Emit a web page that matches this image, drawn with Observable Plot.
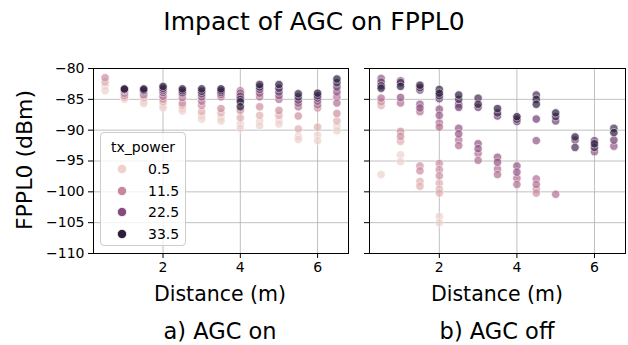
<!DOCTYPE html>
<html><head><meta charset="utf-8">
<script src="https://cdn.jsdelivr.net/npm/d3@7"></script>
<script src="https://cdn.jsdelivr.net/npm/@observablehq/plot@0.6"></script>
<style>
body{margin:0;background:#fff;font-family:"DejaVu Sans",sans-serif;color:#000;}
#wrap{position:relative;width:628px;height:345px;overflow:hidden;background:#fff;}
.lbl{position:absolute;white-space:nowrap;transform:translate(-50%,-50%);line-height:1;}
#legend{position:absolute;left:100px;top:132px;width:86px;height:114px;box-sizing:border-box;border:1px solid #cccccc;border-radius:4px;background:rgba(255,255,255,0.8);font-size:14px;}
</style></head>
<body><div id="wrap"></div>
<script>
// ---- data ----
const distance = [0.5, 1, 1.5, 2, 2.5, 3, 3.5, 4, 4.5, 5, 5.5, 6, 6.5];
const txLevels = [0.5, 5.5, 10.5, 15.5, 20.5, 25.5, 30.5, 33.5];
const legendTicks = [0.5, 11.5, 22.5, 33.5];
const xTicks = [2, 4, 6];
const yTicks = [-110, -105, -100, -95, -90, -85, -80];
const panelTitles = ["a) AGC on", "b) AGC off"];

// AGC on: FPPL0 readings per tx_power level, one entry per distance
const on_tx0_5  = [[-82.8,-83.6],[-85.0],[-85.3,-85.7],[-86.0,-86.4],[-86.5,-86.9],[-87.6,-88.2],[-88.0,-88.5],[-89.0,-89.7],[-88.6,-89.3],[-88.4,-89.0],[-91.0,-91.5],[-90.8,-91.7],[-89.4,-90.1]];
const on_tx5_5  = [[-82.2],[-84.7],[-84.8],[-85.4],[-86.0],[-87.0],[-87.2],[-88.0],[-87.6],[-87.6],[-89.8],[-89.5],[-88.5]];
const on_tx10_5 = [[-81.5],[-84.4],[-84.4],[-85.0],[-85.6],[-86.0],[-86.5],[-86.8],[-86.2],[-86.8],[-87.7],[-86.4],[-87.3]];
const on_tx15_5 = [null,[-84.0],[-84.2],[-84.5],[-84.7],[-85.3],[-84.6],[-83.6],[-84.6],[-85.0],[-86.2],[-85.9],[-84.6,-85.6]];
const on_tx20_5 = [null,[-83.6],[-83.8],[-83.9],[-84.1],[-84.6],[-84.2],[-84.0],[-84.0],[-84.4],[-85.6],[-85.3],[-83.8]];
const on_tx25_5 = [null,[-83.5],[-83.6],[-83.5],[-83.9],[-84.1],[-83.9],[-84.5],[-83.4],[-83.8],[-85.1],[-84.8],[-83.0]];
const on_tx30_5 = [null,[-83.4],[-83.5],[-83.2],[-83.6],[-83.7],[-83.6],[-85.0],[-83.0],[-83.2],[-84.6],[-84.4],[-82.3]];
const on_tx33_5 = [null,[-83.3],[-83.3],[-82.9],[-83.3],[-83.3],[-83.3],[-85.4,-86.2],[-82.6],[-82.6],[-84.1],[-84.0],[-81.7]];

// AGC off
const off_tx0_5  = [[-97.2],[-94.0,-95.1],null,[-104.0,-105.0],null,null,null,null,null,null,null,null,null];
const off_tx5_5  = [[-86.0],[-91.8],[-98.3,-99.1],[-98.6,-99.6,-100.2],null,null,null,null,null,null,null,null,null];
const off_tx10_5 = [[-85.4],[-90.2,-91.0],[-95.8,-96.6],[-95.4,-96.4,-97.4],null,null,null,null,[-99.6,-100.2],null,null,null,null];
const off_tx15_5 = [[-84.8],[-85.6],[-87.0],[-88.8,-89.5],[-91.6,-92.5],[-93.8,-94.9],[-96.3,-97.2],[-97.8,-98.8],[-97.9,-98.8],[-100.4],null,null,null];
const off_tx20_5 = [[-81.6],[-84.7],[-85.8,-86.4],[-86.6,-87.6],[-89.7,-90.6],[-92.2,-93.0],[-94.4,-95.2],[-95.8,-96.8],[-91.7],null,null,[-93.5],[-92.6]];
const off_tx25_5 = [[-82.2],[-82.0],[-83.5],[-84.9],[-85.8,-86.3],[-86.3],[-87.7],[-88.6],[-88.2],[-88.5],[-91.6],[-91.7],[-91.6]];
const off_tx30_5 = [[-82.8],[-82.3],[-83.1],[-84.4],[-85.0],[-84.8],[-87.2],[-88.2],[-84.3],[-87.8],[-92.8],[-92.8],[-89.7]];
const off_tx33_5 = [[-83.2],[-82.9],[-82.7],[-83.4,-84.0],[-84.3],[-85.8],[-86.5],[-87.8],[-85.0,-85.8],[-87.2],[-91.1],[-92.2],[-90.4]];

const onSeries  = [on_tx0_5, on_tx5_5, on_tx10_5, on_tx15_5, on_tx20_5, on_tx25_5, on_tx30_5, on_tx33_5];
const offSeries = [off_tx0_5, off_tx5_5, off_tx10_5, off_tx15_5, off_tx20_5, off_tx25_5, off_tx30_5, off_tx33_5];

function toRows(series) {
  const rows = [];
  series.forEach((arr, i) => arr.forEach((vals, j) => {
    if (vals == null) return;
    for (const v of vals) rows.push({distance: distance[j], tx: txLevels[i], fppl0: v});
  }));
  return rows;
}

// seaborn default cubehelix colormap (light -> dark)
function cubehelix(t) {
  const x = 0.85 - 0.7 * t;
  const a = 0.8 * x * (1 - x) / 2;
  const phi = 2 * Math.PI * (0.4 * x);
  const c = Math.cos(phi), s = Math.sin(phi);
  const r = x + a * (-0.14861 * c + 1.78277 * s);
  const g = x + a * (-0.29227 * c - 0.90649 * s);
  const b = x + a * (1.97294 * c);
  return d3.rgb(r * 255, g * 255, b * 255).formatHex();
}

const H = 345;
function panel(rows, width, marginLeft, marginRight, showY) {
  return Plot.plot({
    width, height: H, marginLeft, marginRight, marginTop: 68, marginBottom: 92,
    x: {domain: [0.2, 6.8]},
    y: {domain: [-110, -80]},
    color: {type: "linear", domain: [0.5, 33.5], interpolate: cubehelix},
    style: {fontFamily: "DejaVu Sans, sans-serif", fontSize: "14px", background: "transparent", overflow: "visible", color: "#000"},
    marks: [
      Plot.gridX(xTicks, {stroke: "#b0b0b0", strokeOpacity: 1, strokeWidth: 0.8}),
      Plot.gridY(yTicks, {stroke: "#b0b0b0", strokeOpacity: 1, strokeWidth: 0.8}),
      Plot.dot(rows, {x: "distance", y: "fppl0", fill: "tx", r: 4.2, stroke: "white", strokeWidth: 0.7, opacity: 0.7}),
      Plot.frame({stroke: "black", strokeWidth: 1}),
      Plot.axisX(xTicks, {tickSize: 5, tickPadding: 4, fontSize: 14, label: null, tickFormat: d3.format("d")}),
      Plot.axisY(yTicks, {tickSize: 5, tickPadding: 4, fontSize: 14, label: null, tickFormat: showY ? d3.format("d") : () => ""})
    ]
  });
}

const wrap = document.getElementById("wrap");
const left = panel(toRows(onSeries), 358, 93, 10, true);
const right = panel(toRows(offSeries), 270, 11, 3, false);
left.style.position = "absolute"; left.style.left = "0px"; left.style.top = "0px";
right.style.position = "absolute"; right.style.left = "358px"; right.style.top = "0px";
wrap.appendChild(left); wrap.appendChild(right);

function label(text, x, y, size, rotate) {
  const d = document.createElement("div");
  d.className = "lbl";
  d.textContent = text;
  d.style.left = x + "px"; d.style.top = y + "px"; d.style.fontSize = size + "px";
  if (rotate) d.style.transform = "translate(-50%,-50%) rotate(-90deg)";
  wrap.appendChild(d);
}
label("Impact of AGC on FPPL0", 314, 21, 25);
label("FPPL0 (dBm)", 25, 160, 22, true);
label("Distance (m)", 220, 294, 20.5);
label("Distance (m)", 497, 294, 20.5);
label(panelTitles[0], 220, 331, 22.5);
label(panelTitles[1], 497, 331, 22.5);

// legend
const cs = left.scale("color");
const lg = document.createElement("div");
lg.id = "legend";
let html = '<div style="position:absolute;left:0;width:100%;top:6px;text-align:center;">tx_power</div>';
legendTicks.forEach((v, i) => {
  const y = 36 + i * 21.7;
  const col = cs && cs.apply ? cs.apply(v) : cubehelix((v - 0.5) / 33);
  html += `<svg style="position:absolute;left:15px;top:${y - 6}px" width="12" height="12"><circle cx="6" cy="6" r="4.6" fill="${col}" stroke="white" stroke-width="0.7"/></svg>`;
  html += `<div style="position:absolute;left:47px;top:${y - 8}px;line-height:16px;">${v}</div>`;
});
lg.innerHTML = html;
wrap.appendChild(lg);
</script>
</body></html>
